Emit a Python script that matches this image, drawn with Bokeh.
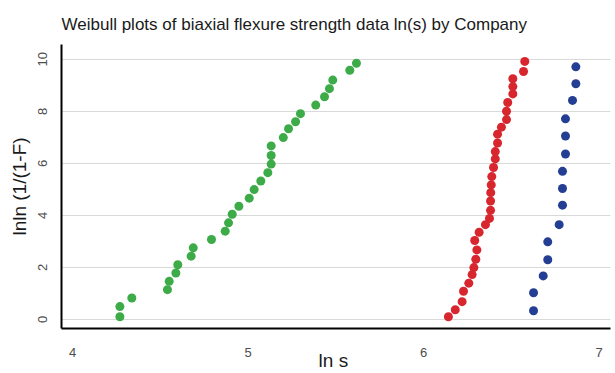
from bokeh.plotting import figure
from bokeh.models import FixedTicker, Range1d
from bokeh.embed import file_html
from bokeh.resources import INLINE

# Company A (green)
green_x = [4.270, 4.270, 4.338, 4.541, 4.551, 4.589, 4.600, 4.676, 4.688, 4.792,
           4.870, 4.889, 4.910, 4.948, 5.007, 5.035, 5.073, 5.113, 5.132, 5.132,
           5.132, 5.201, 5.231, 5.271, 5.299, 5.386, 5.436, 5.464, 5.483, 5.580, 5.618]
green_y = [0.10, 0.49, 0.82, 1.14, 1.46, 1.78, 2.10, 2.43, 2.75, 3.07,
           3.39, 3.71, 4.04, 4.35, 4.66, 4.99, 5.32, 5.64, 5.97, 6.30,
           6.67, 6.99, 7.33, 7.60, 7.91, 8.24, 8.56, 8.87, 9.20, 9.58, 9.85]

# Company B (red)
red_x = [6.142, 6.181, 6.220, 6.228, 6.258, 6.277, 6.287, 6.298, 6.304, 6.292,
         6.317, 6.353, 6.376, 6.382, 6.382, 6.383, 6.386, 6.389, 6.399, 6.409,
         6.409, 6.422, 6.422, 6.444, 6.473, 6.473, 6.480, 6.509, 6.509, 6.509,
         6.570, 6.577]
red_y = [0.10, 0.37, 0.68, 1.08, 1.39, 1.72, 1.99, 2.31, 2.67, 3.03,
         3.35, 3.64, 3.88, 4.19, 4.55, 4.87, 5.17, 5.49, 5.84, 6.17,
         6.45, 6.78, 7.12, 7.39, 7.68, 8.00, 8.34, 8.67, 8.95, 9.25,
         9.53, 9.92]

# Company C (blue)
blue_x = [6.627, 6.627, 6.682, 6.708, 6.708, 6.773, 6.792, 6.792, 6.792, 6.809,
          6.809, 6.809, 6.849, 6.868, 6.868]
blue_y = [0.33, 1.02, 1.67, 2.29, 2.98, 3.64, 4.39, 5.03, 5.69, 6.36,
          7.05, 7.71, 8.42, 9.06, 9.71]

x_ticks = [4, 5, 6, 7]
y_ticks = [0, 2, 4, 6, 8, 10]
title_text = "Weibull plots of biaxial flexure strength data ln(s) by Company"
x_label = "ln  s"
y_label = "lnln (1/(1-F)"

FONT = "Liberation Sans"

p = figure(width=615, height=373, output_backend="svg", toolbar_location=None,
           x_range=Range1d(3.9373, 7.0655), y_range=Range1d(-0.353, 10.569),
           min_border_left=61, min_border_right=5, min_border_top=44, min_border_bottom=41,
           title=title_text)
p.outline_line_color = None
p.background_fill_color = "white"
p.border_fill_color = "white"

p.title.text_font = FONT
p.title.text_font_size = "17px"
p.title.text_font_style = "normal"
p.title.text_color = "#1a1a1a"
p.title.align = "left"
p.title.offset = 0
p.title.standoff = 22

p.scatter(green_x, green_y, size=9, color="#3CAB48", line_color=None)
p.scatter(red_x, red_y, size=9, color="#D7262D", line_color=None)
p.scatter(blue_x, blue_y, size=9, color="#243E93", line_color=None)

p.xgrid.grid_line_color = None
p.ygrid.grid_line_color = "#d9d9d9"
p.ygrid.grid_line_width = 1
p.ygrid.ticker = FixedTicker(ticks=y_ticks)

for ax in (p.xaxis[0], p.yaxis[0]):
    ax.axis_line_color = "black"
    ax.axis_line_width = 2
    ax.major_tick_line_color = None
    ax.minor_tick_line_color = None
    ax.major_label_text_font = FONT
    ax.major_label_text_font_size = "13px"
    ax.major_label_text_color = "#4d4d4d"
    ax.axis_label_text_font = FONT
    ax.axis_label_text_font_size = "19px"
    ax.axis_label_text_font_style = "normal"
    ax.axis_label_text_color = "#1a1a1a"

p.xaxis.ticker = FixedTicker(ticks=x_ticks)
p.yaxis.ticker = FixedTicker(ticks=y_ticks)
p.yaxis.major_label_orientation = "vertical"
p.xaxis.axis_label = x_label
p.xaxis.major_label_standoff = 13
p.xaxis.axis_label_standoff = -10
p.yaxis.axis_label = y_label
p.yaxis.major_label_standoff = 8
p.yaxis.axis_label_standoff = 6

open("out.html", "w").write(file_html(p, INLINE))
